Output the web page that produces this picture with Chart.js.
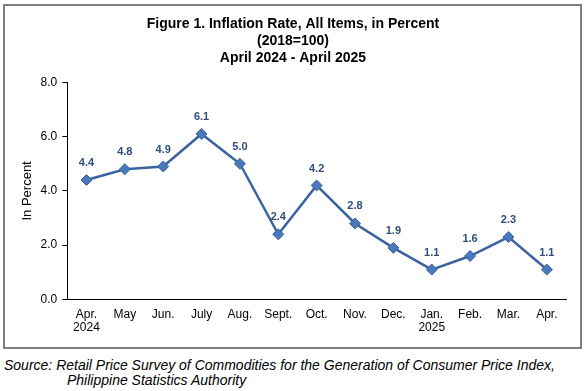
<!DOCTYPE html>
<html>
<head>
<meta charset="utf-8">
<script src="https://cdn.jsdelivr.net/npm/chart.js@4/dist/chart.umd.min.js"></script>
<style>
  body { margin: 0; background: #fff; font-family: "Liberation Sans", Arial, sans-serif; }
  #frame { position: absolute; left: 3px; top: 4px; width: 575px; height: 341px; border: 2px solid #7f7f7f; }
  #source { position: absolute; left: 4px; top: 358px; font-size: 14px; font-style: italic; line-height: 15px; color: #000; }
  #source span { display: block; padding-left: 63px; }
</style>
</head>
<body>
<div id="frame"><canvas id="inflationChart" width="575" height="341"></canvas></div>
<div id="source">Source: Retail Price Survey of Commodities for the Generation of Consumer Price Index,<span>Philippine Statistics Authority</span></div>
<script>
// months shown on the x axis
const months = [['Apr.', '2024'], 'May', 'Jun.', 'July', 'Aug.', 'Sept.', 'Oct.', 'Nov.', 'Dec.', ['Jan.', '2025'], 'Feb.', 'Mar.', 'Apr.'];
// inflation rate, all items (percent)
const inflation = [4.4, 4.8, 4.9, 6.1, 5.0, 2.4, 4.2, 2.8, 1.9, 1.1, 1.6, 2.3, 1.1];
const yTicks = [0, 2, 4, 6, 8];

// writes the value over each point
const pointLabels = {
    id: 'pointLabels',
    afterDatasetsDraw(chart) {
        const ctx = chart.ctx;
        const meta = chart.getDatasetMeta(0);
        ctx.save();
        ctx.font = 'bold 11px "Liberation Sans", Arial, sans-serif';
        ctx.fillStyle = '#2F4E7E';
        ctx.textAlign = 'center';
        ctx.textBaseline = 'middle';
        meta.data.forEach(function (pt, i) {
            ctx.fillText(inflation[i].toFixed(1), pt.x, pt.y - 17);
        });
        ctx.restore();
    }
};

const ctx = document.getElementById('inflationChart').getContext('2d');
const inflationChart = new Chart(ctx, {
    type: 'line',
    data: {
        labels: months,
        datasets: [{
            data: inflation,
            borderColor: '#3A64A0',
            borderWidth: 2.5,
            pointStyle: 'rectRot',
            pointRadius: 5.5,
            pointBackgroundColor: '#4A78BC',
            pointBorderColor: '#3A64A0',
            pointBorderWidth: 1,
            tension: 0
        }]
    },
    options: {
        responsive: false,
        animation: false,
        layout: { padding: { left: 15, right: 14, top: 0, bottom: 4 } },
        plugins: {
            legend: { display: false },
            tooltip: { enabled: false },
            title: {
                display: true,
                text: ['Figure 1. Inflation Rate, All Items, in Percent', '(2018=100)', 'April 2024 - April 2025'],
                color: '#000',
                font: { family: '"Liberation Sans", Arial, sans-serif', size: 14, weight: 'bold', lineHeight: 1.2 },
                padding: { top: 10, bottom: 16 }
            }
        },
        scales: {
            x: {
                offset: true,
                grid: { display: false, drawTicks: false },
                border: { display: true, color: '#000', width: 1 },
                ticks: {
                    color: '#000',
                    padding: 8,
                    maxRotation: 0,
                    autoSkip: false,
                    font: { family: '"Liberation Sans", Arial, sans-serif', size: 12, lineHeight: 1.15 }
                }
            },
            y: {
                min: 0,
                max: 8,
                afterBuildTicks: function (axis) {
                    axis.ticks = yTicks.map(function (v) { return { value: v }; });
                },
                grid: { drawOnChartArea: false, drawTicks: true, tickLength: 5, color: '#000' },
                border: { display: true, color: '#000', width: 1 },
                ticks: {
                    color: '#000',
                    padding: 5,
                    font: { family: '"Liberation Sans", Arial, sans-serif', size: 12 },
                    callback: function (v) { return Number(v).toFixed(1); }
                },
                title: {
                    display: true,
                    text: 'In Percent',
                    color: '#000',
                    font: { family: '"Liberation Sans", Arial, sans-serif', size: 13 },
                    padding: { top: 0, bottom: 0 }
                }
            }
        }
    },
    plugins: [pointLabels]
});
</script>
</body>
</html>
